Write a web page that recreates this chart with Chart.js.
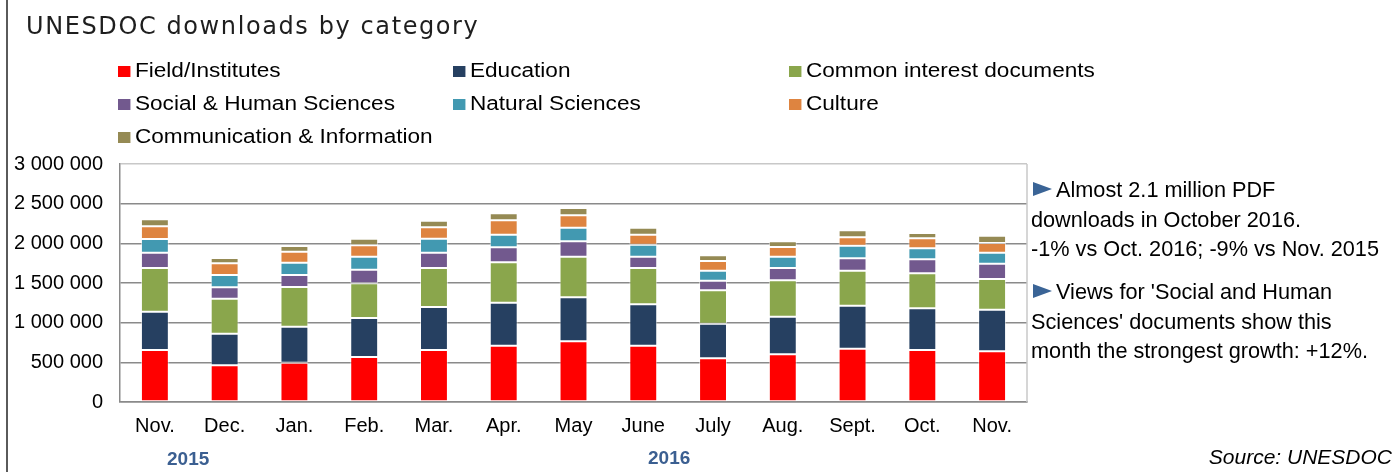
<!DOCTYPE html>
<html>
<head>
<meta charset="utf-8">
<script src="https://cdn.jsdelivr.net/npm/chart.js@4/dist/chart.umd.min.js"></script>
<style>
  body { margin: 0; background: #fff; }
  #page { position: relative; width: 1395px; height: 472px; overflow: hidden; font-family: "Liberation Sans", Arial, sans-serif; }
  #chartBox { position: absolute; left: 0; top: 0; width: 1395px; height: 472px; }
  #frame { position: absolute; left: 6px; top: 0; width: 2px; height: 472px; background: #5a5a5a; }
  #title { position: absolute; left: 26px; top: 12px; font-family: "DejaVu Sans", sans-serif; font-size: 24px; letter-spacing: 1.6px; color: #1e1e1e; white-space: nowrap; }
  .leg { position: absolute; height: 24px; line-height: 24px; font-size: 20px; color: #000; white-space: nowrap; transform: scaleX(1.13); transform-origin: left center; }
  .leg i { display: inline-block; width: 11px; height: 11px; margin-right: 4px; vertical-align: 0px; }
  .note { position: absolute; left: 1031px; font-size: 21.7px; line-height: 29.5px; color: #000; white-space: nowrap; }
  .note b { display: inline-block; width: 0; height: 0; border-left: 19px solid #3a6496; border-top: 7.5px solid transparent; border-bottom: 7.5px solid transparent; margin: 0 4px 0 2px; vertical-align: 1px; }
  .year { position: absolute; font-size: 19px; font-weight: bold; color: #3b5f91; }
  #source { position: absolute; right: 3px; top: 445px; font-size: 21px; font-style: italic; color: #000; }
</style>
</head>
<body>
<div id="page">
  <div id="chartBox"><canvas id="barChart" width="1395" height="472"></canvas></div>
  <div id="frame"></div>
  <div id="title">UNESDOC downloads by category</div>
  <div id="legend"></div>
  <div class="note" style="top:175px"><b></b>Almost 2.1 million PDF<br>downloads in October 2016.<br>-1% vs Oct. 2016; -9% vs Nov. 2015</div>
  <div class="note" style="top:277px"><b></b>Views for 'Social and Human<br>Sciences' documents show this<br>month the strongest growth: +12%.</div>
  <div class="year" style="left:167px; top:448px">2015</div>
  <div class="year" style="left:648px; top:447px">2016</div>
  <div id="source">Source: UNESDOC</div>
</div>
<script>
const months = ['Nov.', 'Dec.', 'Jan.', 'Feb.', 'Mar.', 'Apr.', 'May', 'June', 'July', 'Aug.', 'Sept.', 'Oct.', 'Nov.'];

const fieldInstitutes = [655000, 462000, 496000, 567000, 655000, 710000, 765000, 710000, 550000, 601000, 672000, 655000, 639000];
const education       = [483000, 399000, 454000, 492000, 543000, 542000, 554000, 521000, 437000, 475000, 542000, 526000, 525000];
const commonInterest  = [551000, 441000, 500000, 437000, 491000, 509000, 513000, 458000, 421000, 458000, 441000, 441000, 387000];
const socialHuman     = [193000, 144000, 151000, 172000, 193000, 189000, 193000, 143000, 121000, 155000, 156000, 176000, 193000];
const naturalSciences = [173000, 155000, 155000, 164000, 177000, 159000, 172000, 151000, 126000, 143000, 159000, 139000, 138000];
const culture         = [159000, 147000, 139000, 143000, 143000, 181000, 156000, 126000, 122000, 122000, 106000, 126000, 122000];
const communication   = [89000, 67000, 71000, 84000, 84000, 88000, 92000, 88000, 72000, 71000, 88000, 67000, 93000];

const seriesNames = ['Field/Institutes', 'Education', 'Common interest documents', 'Social & Human Sciences', 'Natural Sciences', 'Culture', 'Communication & Information'];
const seriesData = [fieldInstitutes, education, commonInterest, socialHuman, naturalSciences, culture, communication];
const seriesColors = ['#ff0000', '#264061', '#8aa64c', '#72598e', '#4299b1', '#de8440', '#958a54'];

const yTicks = [0, 500000, 1000000, 1500000, 2000000, 2500000, 3000000];

// legend in 3 columns, like the original
const legendCols = [118, 453, 789];
const legendRows = [58, 91, 124];
const legendBox = document.getElementById('legend');
seriesNames.forEach(function (name, i) {
    const d = document.createElement('div');
    d.className = 'leg';
    d.style.left = legendCols[i % 3] + 'px';
    d.style.top = legendRows[Math.floor(i / 3)] + 'px';
    d.innerHTML = '<i style="background:' + seriesColors[i] + '"></i>' + name;
    legendBox.appendChild(d);
});

function formatThousands(v) {
    return String(v).replace(/\B(?=(\d{3})+(?!\d))/g, ' ');
}

const plotFrame = {
    id: 'plotFrame',
    beforeDatasetsDraw(chart) {
        const a = chart.chartArea;
        const ctx = chart.ctx;
        ctx.save();
        ctx.strokeStyle = '#c8c8c8';
        ctx.lineWidth = 1.5;
        ctx.beginPath();
        ctx.moveTo(a.right, a.top);
        ctx.lineTo(a.right, a.bottom);
        ctx.stroke();
        ctx.restore();
    }
};

const ctx = document.getElementById('barChart').getContext('2d');
new Chart(ctx, {
    type: 'bar',
    data: {
        labels: months,
        datasets: seriesNames.map(function (name, i) {
            return {
                label: name,
                data: seriesData[i],
                backgroundColor: seriesColors[i],
                borderColor: 'rgba(255,255,255,0.55)',
                borderWidth: 1,
                borderSkipped: false,
                categoryPercentage: 1,
                barPercentage: 0.4
            };
        })
    },
    options: {
        responsive: false,
        animation: false,
        layout: { padding: { left: 0, right: 368, top: 164, bottom: 0 } },
        plugins: {
            legend: { display: false },
            title: { display: false },
            tooltip: { enabled: false }
        },
        scales: {
            x: {
                stacked: true,
                grid: { display: false, drawTicks: false },
                border: { color: '#8a8a8a', width: 1.5 },
                ticks: {
                    color: '#000',
                    font: { family: 'Liberation Sans', size: 20 },
                    padding: 12,
                    maxRotation: 0
                },
                afterFit: function (s) { s.height = 70; }
            },
            y: {
                stacked: true,
                min: 0,
                max: 3000000,
                afterBuildTicks: function (s) { s.ticks = yTicks.map(v => ({ value: v })); },
                grid: {
                    drawTicks: false,
                    lineWidth: 1.5,
                    color: c => (c.tick && c.tick.value === 3000000) ? '#c8c8c8' : '#8a8a8a'
                },
                border: { color: '#8a8a8a', width: 1.5 },
                ticks: {
                    color: '#000',
                    font: { family: 'Liberation Sans', size: 20 },
                    padding: 17,
                    callback: v => formatThousands(v)
                },
                afterFit: function (s) { s.width = 120; }
            }
        }
    },
    plugins: [plotFrame]
});
</script>
</body>
</html>
